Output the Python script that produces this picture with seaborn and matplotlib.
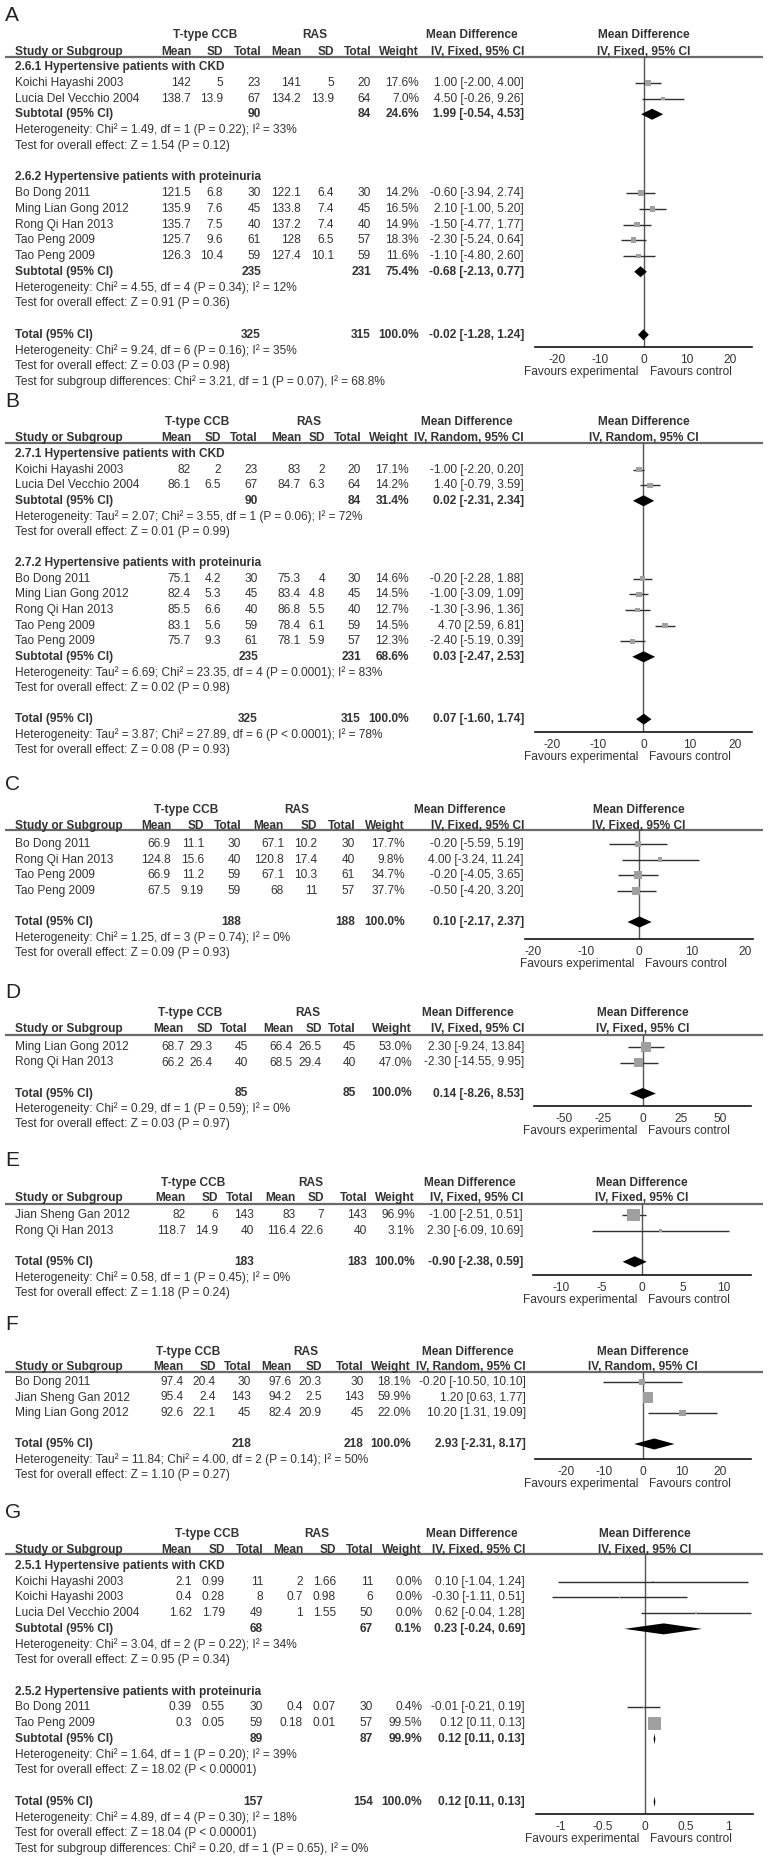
import numpy as np
import pandas as pd
import matplotlib
matplotlib.use("Agg")
import matplotlib.pyplot as plt
import seaborn as sns
from matplotlib.transforms import blended_transform_factory, offset_copy

sns.set_style("white")
plt.rcParams["font.family"] = ["Liberation Sans", "DejaVu Sans"]

# ---------------- DATA ----------------
# Panel A
A_names = ["Koichi Hayashi 2003", "Lucia Del Vecchio 2004", "Bo Dong 2011", "Ming Lian Gong 2012",
           "Rong Qi Han 2013", "Tao Peng 2009", "Tao Peng 2009"]
A_group = [0, 0, 1, 1, 1, 1, 1]
A_t_mean = [142, 138.7, 121.5, 135.9, 135.7, 125.7, 126.3]
A_t_sd = [5, 13.9, 6.8, 7.6, 7.5, 9.6, 10.4]
A_t_n = [23, 67, 30, 45, 40, 61, 59]
A_r_mean = [141, 134.2, 122.1, 133.8, 137.2, 128, 127.4]
A_r_sd = [5, 13.9, 6.4, 7.4, 7.4, 6.5, 10.1]
A_r_n = [20, 64, 30, 45, 40, 57, 59]
A_weight = [17.6, 7.0, 14.2, 16.5, 14.9, 18.3, 11.6]
A_md = [1.00, 4.50, -0.60, 2.10, -1.50, -2.30, -1.10]
A_lo = [-2.00, -0.26, -3.94, -1.00, -4.77, -5.24, -4.80]
A_hi = [4.00, 9.26, 2.74, 5.20, 1.77, 0.64, 2.60]
A_sub_title = ["2.6.1 Hypertensive patients with CKD", "2.6.2 Hypertensive patients with proteinuria"]
A_sub_n = [[90, 84], [235, 231]]
A_sub_w = [24.6, 75.4]
A_sub_ci = [[1.99, -0.54, 4.53], [-0.68, -2.13, 0.77]]
A_sub_het = ["Heterogeneity: Chi² = 1.49, df = 1 (P = 0.22); I² = 33%",
             "Heterogeneity: Chi² = 4.55, df = 4 (P = 0.34); I² = 12%"]
A_sub_z = ["Test for overall effect: Z = 1.54 (P = 0.12)", "Test for overall effect: Z = 0.91 (P = 0.36)"]
A_tot_n = [325, 315]
A_tot_ci = [-0.02, -1.28, 1.24]
A_tot_het = "Heterogeneity: Chi² = 9.24, df = 6 (P = 0.16); I² = 35%"
A_tot_z = "Test for overall effect: Z = 0.03 (P = 0.98)"
A_subdiff = "Test for subgroup differences: Chi² = 3.21, df = 1 (P = 0.07), I² = 68.8%"
A_ticks = [-20, -10, 0, 10, 20]

# Panel B
B_names = ["Koichi Hayashi 2003", "Lucia Del Vecchio 2004", "Bo Dong 2011", "Ming Lian Gong 2012",
           "Rong Qi Han 2013", "Tao Peng 2009", "Tao Peng 2009"]
B_group = [0, 0, 1, 1, 1, 1, 1]
B_t_mean = [82, 86.1, 75.1, 82.4, 85.5, 83.1, 75.7]
B_t_sd = [2, 6.5, 4.2, 5.3, 6.6, 5.6, 9.3]
B_t_n = [23, 67, 30, 45, 40, 59, 61]
B_r_mean = [83, 84.7, 75.3, 83.4, 86.8, 78.4, 78.1]
B_r_sd = [2, 6.3, 4, 4.8, 5.5, 6.1, 5.9]
B_r_n = [20, 64, 30, 45, 40, 59, 57]
B_weight = [17.1, 14.2, 14.6, 14.5, 12.7, 14.5, 12.3]
B_md = [-1.00, 1.40, -0.20, -1.00, -1.30, 4.70, -2.40]
B_lo = [-2.20, -0.79, -2.28, -3.09, -3.96, 2.59, -5.19]
B_hi = [0.20, 3.59, 1.88, 1.09, 1.36, 6.81, 0.39]
B_sub_title = ["2.7.1 Hypertensive patients with CKD", "2.7.2 Hypertensive patients with proteinuria"]
B_sub_n = [[90, 84], [235, 231]]
B_sub_w = [31.4, 68.6]
B_sub_ci = [[0.02, -2.31, 2.34], [0.03, -2.47, 2.53]]
B_sub_het = ["Heterogeneity: Tau² = 2.07; Chi² = 3.55, df = 1 (P = 0.06); I² = 72%",
             "Heterogeneity: Tau² = 6.69; Chi² = 23.35, df = 4 (P = 0.0001); I² = 83%"]
B_sub_z = ["Test for overall effect: Z = 0.01 (P = 0.99)", "Test for overall effect: Z = 0.02 (P = 0.98)"]
B_tot_n = [325, 315]
B_tot_ci = [0.07, -1.60, 1.74]
B_tot_het = "Heterogeneity: Tau² = 3.87; Chi² = 27.89, df = 6 (P < 0.0001); I² = 78%"
B_tot_z = "Test for overall effect: Z = 0.08 (P = 0.93)"
B_ticks = [-20, -10, 0, 10, 20]

# Panel C
C_names = ["Bo Dong 2011", "Rong Qi Han 2013", "Tao Peng 2009", "Tao Peng 2009"]
C_t_mean = [66.9, 124.8, 66.9, 67.5]
C_t_sd = [11.1, 15.6, 11.2, 9.19]
C_t_n = [30, 40, 59, 59]
C_r_mean = [67.1, 120.8, 67.1, 68]
C_r_sd = [10.2, 17.4, 10.3, 11]
C_r_n = [30, 40, 61, 57]
C_weight = [17.7, 9.8, 34.7, 37.7]
C_md = [-0.20, 4.00, -0.20, -0.50]
C_lo = [-5.59, -3.24, -4.05, -4.20]
C_hi = [5.19, 11.24, 3.65, 3.20]
C_tot_n = [188, 188]
C_tot_ci = [0.10, -2.17, 2.37]
C_tot_het = "Heterogeneity: Chi² = 1.25, df = 3 (P = 0.74); I² = 0%"
C_tot_z = "Test for overall effect: Z = 0.09 (P = 0.93)"
C_ticks = [-20, -10, 0, 10, 20]

# Panel D
D_names = ["Ming Lian Gong 2012", "Rong Qi Han 2013"]
D_t_mean = [68.7, 66.2]
D_t_sd = [29.3, 26.4]
D_t_n = [45, 40]
D_r_mean = [66.4, 68.5]
D_r_sd = [26.5, 29.4]
D_r_n = [45, 40]
D_weight = [53.0, 47.0]
D_md = [2.30, -2.30]
D_lo = [-9.24, -14.55]
D_hi = [13.84, 9.95]
D_tot_n = [85, 85]
D_tot_ci = [0.14, -8.26, 8.53]
D_tot_het = "Heterogeneity: Chi² = 0.29, df = 1 (P = 0.59); I² = 0%"
D_tot_z = "Test for overall effect: Z = 0.03 (P = 0.97)"
D_ticks = [-50, -25, 0, 25, 50]

# Panel E
E_names = ["Jian Sheng Gan 2012", "Rong Qi Han 2013"]
E_t_mean = [82, 118.7]
E_t_sd = [6, 14.9]
E_t_n = [143, 40]
E_r_mean = [83, 116.4]
E_r_sd = [7, 22.6]
E_r_n = [143, 40]
E_weight = [96.9, 3.1]
E_md = [-1.00, 2.30]
E_lo = [-2.51, -6.09]
E_hi = [0.51, 10.69]
E_tot_n = [183, 183]
E_tot_ci = [-0.90, -2.38, 0.59]
E_tot_het = "Heterogeneity: Chi² = 0.58, df = 1 (P = 0.45); I² = 0%"
E_tot_z = "Test for overall effect: Z = 1.18 (P = 0.24)"
E_ticks = [-10, -5, 0, 5, 10]

# Panel F
F_names = ["Bo Dong 2011", "Jian Sheng Gan 2012", "Ming Lian Gong 2012"]
F_t_mean = [97.4, 95.4, 92.6]
F_t_sd = [20.4, 2.4, 22.1]
F_t_n = [30, 143, 45]
F_r_mean = [97.6, 94.2, 82.4]
F_r_sd = [20.3, 2.5, 20.9]
F_r_n = [30, 143, 45]
F_weight = [18.1, 59.9, 22.0]
F_md = [-0.20, 1.20, 10.20]
F_lo = [-10.50, 0.63, 1.31]
F_hi = [10.10, 1.77, 19.09]
F_tot_n = [218, 218]
F_tot_ci = [2.93, -2.31, 8.17]
F_tot_het = "Heterogeneity: Tau² = 11.84; Chi² = 4.00, df = 2 (P = 0.14); I² = 50%"
F_tot_z = "Test for overall effect: Z = 1.10 (P = 0.27)"
F_ticks = [-20, -10, 0, 10, 20]

# Panel G
G_names = ["Koichi Hayashi 2003", "Koichi Hayashi 2003", "Lucia Del Vecchio 2004", "Bo Dong 2011", "Tao Peng 2009"]
G_group = [0, 0, 0, 1, 1]
G_t_mean = [2.1, 0.4, 1.62, 0.39, 0.3]
G_t_sd = [0.99, 0.28, 1.79, 0.55, 0.05]
G_t_n = [11, 8, 49, 30, 59]
G_r_mean = [2, 0.7, 1, 0.4, 0.18]
G_r_sd = [1.66, 0.98, 1.55, 0.07, 0.01]
G_r_n = [11, 6, 50, 30, 57]
G_weight = [0.0, 0.0, 0.0, 0.4, 99.5]
G_md = [0.10, -0.30, 0.62, -0.01, 0.12]
G_lo = [-1.04, -1.11, -0.04, -0.21, 0.11]
G_hi = [1.24, 0.51, 1.28, 0.19, 0.13]
G_sub_title = ["2.5.1 Hypertensive patients with CKD", "2.5.2 Hypertensive patients with proteinuria"]
G_sub_n = [[68, 67], [89, 87]]
G_sub_w = [0.1, 99.9]
G_sub_ci = [[0.23, -0.24, 0.69], [0.12, 0.11, 0.13]]
G_sub_het = ["Heterogeneity: Chi² = 3.04, df = 2 (P = 0.22); I² = 34%",
             "Heterogeneity: Chi² = 1.64, df = 1 (P = 0.20); I² = 39%"]
G_sub_z = ["Test for overall effect: Z = 0.95 (P = 0.34)", "Test for overall effect: Z = 18.02 (P < 0.00001)"]
G_tot_n = [157, 154]
G_tot_ci = [0.12, 0.11, 0.13]
G_tot_het = "Heterogeneity: Chi² = 4.89, df = 4 (P = 0.30); I² = 18%"
G_tot_z = "Test for overall effect: Z = 18.04 (P < 0.00001)"
G_subdiff = "Test for subgroup differences: Chi² = 0.20, df = 1 (P = 0.65), I² = 0%"
G_ticks = [-1, -0.5, 0, 0.5, 1]

FIXED = "IV, Fixed, 95% CI"
RANDOM = "IV, Random, 95% CI"


def panel(prefix, method, grouped, subdiff=None):
    g = globals()
    d = dict(names=g[prefix + "_names"], t_mean=g[prefix + "_t_mean"], t_sd=g[prefix + "_t_sd"],
             t_n=g[prefix + "_t_n"], r_mean=g[prefix + "_r_mean"], r_sd=g[prefix + "_r_sd"],
             r_n=g[prefix + "_r_n"], w=g[prefix + "_weight"], md=g[prefix + "_md"],
             lo=g[prefix + "_lo"], hi=g[prefix + "_hi"], tot_n=g[prefix + "_tot_n"],
             tot_ci=g[prefix + "_tot_ci"], tot_het=g[prefix + "_tot_het"], tot_z=g[prefix + "_tot_z"],
             ticks=g[prefix + "_ticks"], method=method, subdiff=subdiff, grouped=grouped)
    if grouped:
        for k in ["group", "sub_title", "sub_n", "sub_w", "sub_ci", "sub_het", "sub_z"]:
            d[k] = g[prefix + "_" + k]
    return d


PANELS = {
    "A": panel("A", FIXED, True, A_subdiff),
    "B": panel("B", RANDOM, True),
    "C": panel("C", FIXED, False),
    "D": panel("D", FIXED, False),
    "E": panel("E", FIXED, False),
    "F": panel("F", RANDOM, False),
    "G": panel("G", FIXED, True, G_subdiff),
}

# ---------------- LAYOUT (pixels) ----------------
LAYOUT = {
    "A": dict(label_y=15, h1=35, h2=52, line=57, row0=67, pitch=15.75, axis=347, ax_x=(535, 752), xlim=25,
              cols=[191, 223, 261, 301, 334, 371, 419, 524], h1x=(205, 315, 472)),
    "B": dict(label_y=401, h1=422, h2=438, line=443, row0=454, pitch=15.6, axis=732, ax_x=(535, 752), xlim=23.7,
              cols=[191, 221, 258, 301, 325, 361, 409, 524], h1x=(197, 309, 467)),
    "C": dict(label_y=785, h1=810, h2=826, line=830, row0=844, pitch=15.6, axis=939, ax_x=(525, 753), xlim=21.5,
              cols=[171, 204, 241, 284, 317, 355, 405, 524], h1x=(186, 297, 460)),
    "D": dict(label_y=992, h1=1013, h2=1029, line=1035, row0=1047, pitch=15.5, axis=1106, ax_x=(534, 751), xlim=69.5,
              cols=[184, 213, 248, 293, 322, 356, 412, 524], h1x=(190, 308, 468)),
    "E": dict(label_y=1160, h1=1183, h2=1198, line=1204, row0=1215, pitch=15.6, axis=1275, ax_x=(533, 751), xlim=13.4,
              cols=[186, 218, 254, 296, 324, 367, 415, 523], h1x=(193, 311, 470)),
    "F": dict(label_y=1325, h1=1352, h2=1367, line=1372, row0=1382, pitch=15.5, axis=1459, ax_x=(535, 751), xlim=28,
              cols=[184, 216, 251, 292, 322, 364, 411, 526], h1x=(188, 306, 468)),
    "G": dict(label_y=1512, h1=1534, h2=1550, line=1554, row0=1566, pitch=15.72, axis=1814, ax_x=(536, 753), xlim=1.3,
              cols=[192, 225, 263, 303, 336, 373, 422, 525], h1x=(207, 317, 472)),
}

W, H = 770, 1859
FS = 8.6
TXT = "#333333"
SQ = "#a0a0a0"

fig = plt.figure(figsize=(W / 100, H / 100), dpi=100)
ov = fig.add_axes([0, 0, 1, 1], zorder=0)
ov.set_xlim(0, W)
ov.set_ylim(H, 0)
ov.axis("off")


def t(x, y, s, ha="left", bold=False, size=FS, color=TXT):
    ov.text(x, y, s, ha=ha, va="center", fontsize=size, fontweight="bold" if bold else "normal", color=color)


def ci_str(md, lo, hi):
    return f"{md:.2f} [{lo:.2f}, {hi:.2f}]"


def build_rows(P):
    rows = []
    if P["grouped"]:
        for gi, title in enumerate(P["sub_title"]):
            rows.append(("title", title))
            for i, gg in enumerate(P["group"]):
                if gg == gi:
                    rows.append(("study", i))
            rows.append(("subtotal", gi))
            rows.append(("text", P["sub_het"][gi]))
            rows.append(("text", P["sub_z"][gi]))
            rows.append(("blank", None))
    else:
        for i in range(len(P["names"])):
            rows.append(("study", i))
        rows.append(("blank", None))
    rows.append(("total", None))
    rows.append(("text", P["tot_het"]))
    rows.append(("text", P["tot_z"]))
    if P["subdiff"]:
        rows.append(("text", P["subdiff"]))
    return rows


for key, P in PANELS.items():
    L = LAYOUT[key]
    cols = L["cols"]
    x0, x1 = L["ax_x"]
    # panel letter
    t(5, L["label_y"], key, size=15, color="#222222")
    # headers
    t(L["h1x"][0], L["h1"], "T-type CCB", ha="center", bold=True)
    t(L["h1x"][1], L["h1"], "RAS", ha="center", bold=True)
    t(L["h1x"][2], L["h1"], "Mean Difference", ha="center", bold=True)
    t((x0 + x1) / 2, L["h1"], "Mean Difference", ha="center", bold=True)
    t(15, L["h2"], "Study or Subgroup", bold=True)
    for c, s in zip(cols, ["Mean", "SD", "Total", "Mean", "SD", "Total", "Weight", P["method"]]):
        t(c, L["h2"], s, ha="right", bold=True)
    t((x0 + x1) / 2, L["h2"], P["method"], ha="center", bold=True)
    ov.plot([5, 763], [L["line"], L["line"]], color="#6a6a6a", lw=1.6, solid_capstyle="butt")

    # forest axes
    ax = fig.add_axes([x0 / W, 1 - L["axis"] / H, (x1 - x0) / W, (L["axis"] - L["line"]) / H], zorder=2)
    ax.set_facecolor("none")

    rows = build_rows(P)
    ys, mds, areas, los, his = [], [], [], [], []
    diamonds = []
    for r, (kind, val) in enumerate(rows):
        y = L["row0"] + r * L["pitch"]
        if kind == "title":
            t(15, y, val, bold=True)
        elif kind == "text":
            t(15, y, val)
        elif kind == "study":
            i = val
            t(15, y, P["names"][i])
            vals = [f"{P['t_mean'][i]:g}", f"{P['t_sd'][i]:g}", f"{P['t_n'][i]}",
                    f"{P['r_mean'][i]:g}", f"{P['r_sd'][i]:g}", f"{P['r_n'][i]}",
                    f"{P['w'][i]:.1f}%", ci_str(P["md"][i], P["lo"][i], P["hi"][i])]
            for c, s in zip(cols, vals):
                t(c, y, s, ha="right")
            side_px = max(1.5, 1.25 * np.sqrt(P["w"][i]) + 0.5)
            ys.append(y)
            mds.append(P["md"][i])
            los.append(P["lo"][i])
            his.append(P["hi"][i])
            areas.append((side_px * 0.72) ** 2)
        elif kind in ("subtotal", "total"):
            if kind == "subtotal":
                n = P["sub_n"][val]
                w = P["sub_w"][val]
                ci = P["sub_ci"][val]
                lab = "Subtotal (95% CI)"
            else:
                n = P["tot_n"]
                w = 100.0
                ci = P["tot_ci"]
                lab = "Total (95% CI)"
            t(15, y, lab, bold=True)
            t(cols[2], y, f"{n[0]}", ha="right", bold=True)
            t(cols[5], y, f"{n[1]}", ha="right", bold=True)
            t(cols[6], y, f"{w:.1f}%", ha="right", bold=True)
            t(cols[7], y, ci_str(*ci), ha="right", bold=True)
            diamonds.append((y, ci))

    ax.axvline(0, color="#555555", lw=1.0, zorder=1)
    ax.hlines(ys, los, his, color="#303030", lw=1.0, zorder=2)
    df = pd.DataFrame({"md": mds, "y": ys, "area": areas})
    sns.scatterplot(data=df, x="md", y="y", size="area", sizes=(0, 400), size_norm=(0, 400),
                    marker="s", color=SQ, edgecolor="none", linewidth=0, legend=False, ax=ax, zorder=3)
    hh = 5.5
    for y, (md, lo, hi) in diamonds:
        ax.fill([lo, md, hi, md], [y, y - hh, y, y + hh], color="black", lw=0, zorder=4)

    xl = L["xlim"]
    ax.set_xlim(-xl, xl)
    ax.set_ylim(L["axis"], L["line"])
    ax.set_xlabel("")
    ax.set_ylabel("")
    ax.set_yticks([])
    ax.set_xticks(P["ticks"])
    ax.set_xticklabels([f"{v:g}" for v in P["ticks"]])
    for s in ["top", "left", "right"]:
        ax.spines[s].set_visible(False)
    ax.spines["bottom"].set_color("#111111")
    ax.spines["bottom"].set_linewidth(1.2)
    ax.tick_params(axis="x", direction="inout", length=7, width=1, color="#111111",
                   labelsize=FS, labelcolor=TXT, pad=1.5)

    # favours labels
    trans = blended_transform_factory(ax.transData, ov.transData)
    yf = L["axis"] + 25
    ax.text(0, yf, "Favours experimental", ha="right", va="center", fontsize=FS, color=TXT,
            transform=offset_copy(trans, fig=fig, x=-5, y=0, units="dots"), clip_on=False)
    ax.text(0, yf, "Favours control", ha="left", va="center", fontsize=FS, color=TXT,
            transform=offset_copy(trans, fig=fig, x=6, y=0, units="dots"), clip_on=False)

fig.savefig("out.png", dpi=100, facecolor="white")
